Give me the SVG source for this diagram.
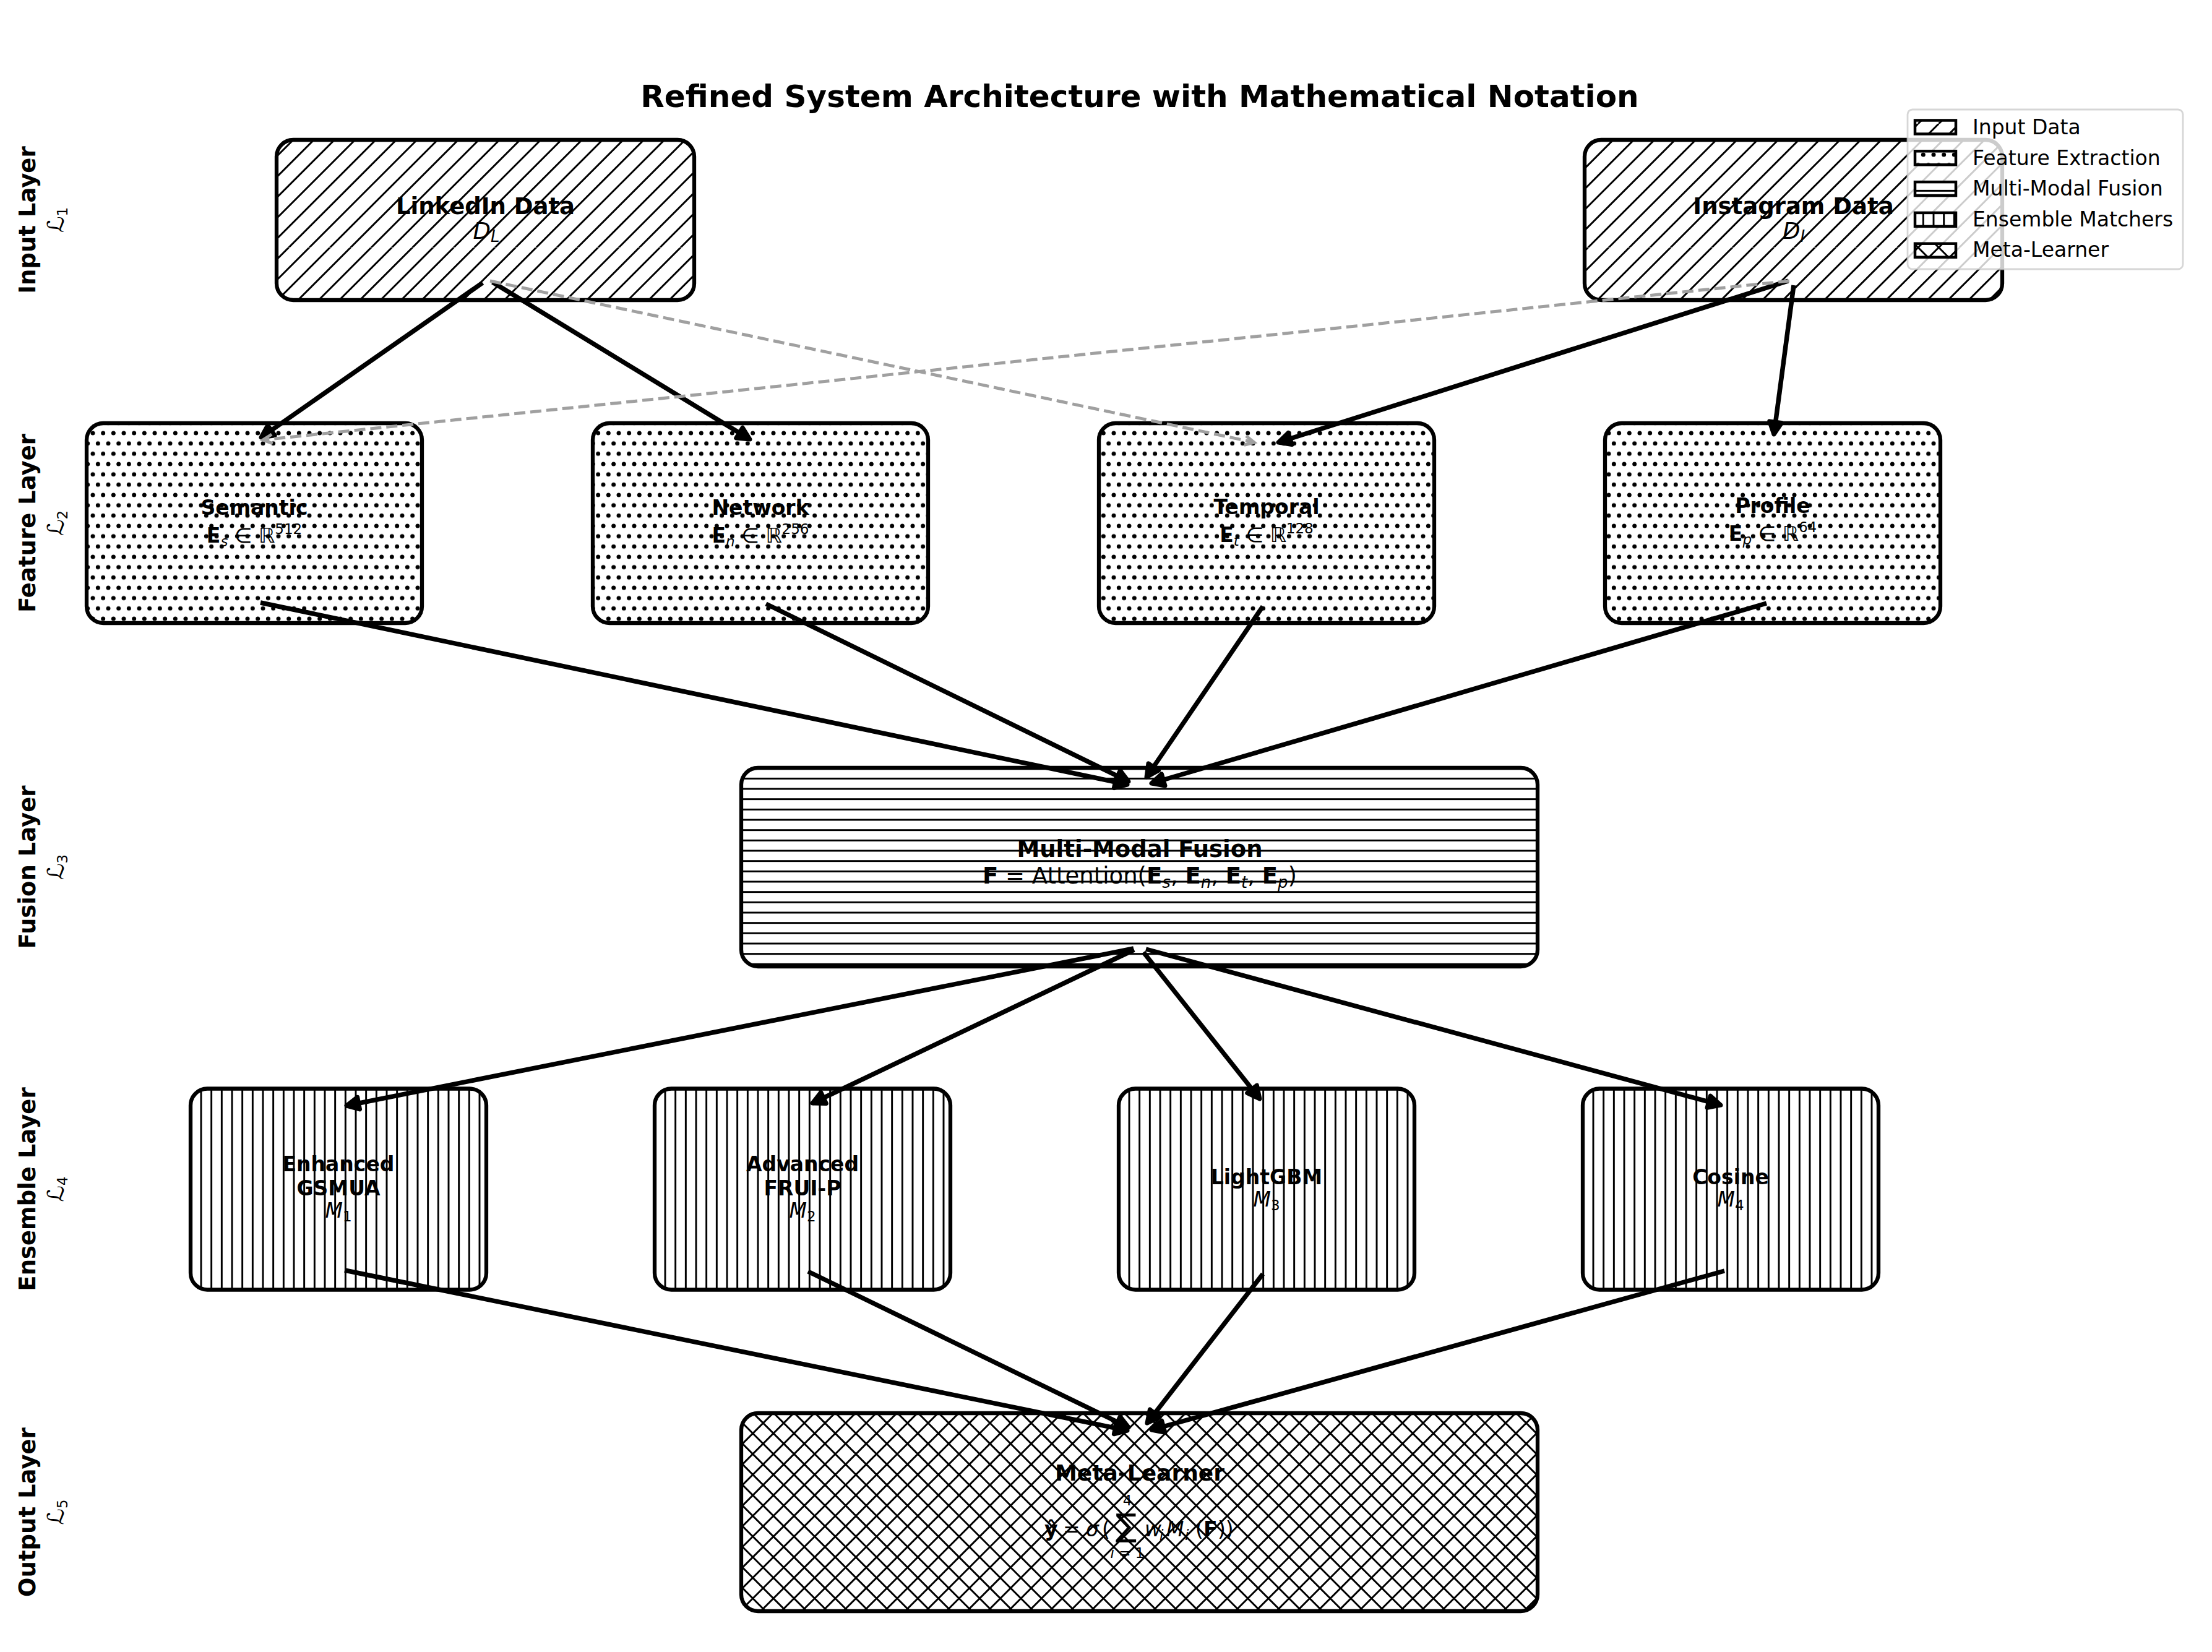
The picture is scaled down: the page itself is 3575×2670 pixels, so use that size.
<svg xmlns="http://www.w3.org/2000/svg" width="3575" height="2670" viewBox="0 0 3575 2670">
<style>
text{font-family:"DejaVu Sans","Liberation Sans","Noto Sans",sans-serif;fill:#000}
.title{font-size:50px;font-weight:bold;text-anchor:middle}
.lay{font-size:37px;font-weight:bold;text-anchor:middle}
.cal{font-size:37px;text-anchor:middle}
.bg{fill:#fff;stroke:none}
.box{stroke:#000;stroke-width:6.3}
.h37{font-size:37px;font-weight:bold;text-anchor:middle}
.h33{font-size:33px;font-weight:bold;text-anchor:middle}
.h36{font-size:36px;font-weight:bold;text-anchor:middle}
.m37{font-size:37px;text-anchor:middle}
.m33{font-size:33px;text-anchor:middle}
.f33{font-size:33px}
.it{font-style:italic}
.b{font-weight:bold}
.s26{font-size:26px;font-style:italic}
.s23{font-size:23px;font-style:italic}
.u23{font-size:23px}
.conn{stroke:#000;stroke-width:7.5;fill:none;marker-end:url(#ah)}
.dash{stroke:#a0a0a0;stroke-width:5;stroke-dasharray:18 8;fill:none;marker-end:url(#gh)}
.leg{font-size:33px}
.sw{stroke:#000;stroke-width:4.5}
</style>
<defs>
<pattern id="pDiag" patternUnits="userSpaceOnUse" x="0" y="0" width="200" height="200">
<path d="M0,0L-200,200M33.333,0L-166.667,200M66.667,0L-133.333,200M100,0L-100,200M133.333,0L-66.667,200M166.667,0L-33.333,200M200,0L0,200M233.333,0L33.333,200M266.667,0L66.667,200M300,0L100,200M333.333,0L133.333,200M366.667,0L166.667,200M400,0L200,200" stroke="#000" stroke-width="3" fill="none"/>
</pattern>
<pattern id="pCross" patternUnits="userSpaceOnUse" x="0" y="0" width="200" height="200">
<path d="M0,0L-200,200M33.333,0L-166.667,200M66.667,0L-133.333,200M100,0L-100,200M133.333,0L-66.667,200M166.667,0L-33.333,200M200,0L0,200M233.333,0L33.333,200M266.667,0L66.667,200M300,0L100,200M333.333,0L133.333,200M366.667,0L166.667,200M400,0L200,200M-200,0L0,200M-166.667,0L33.333,200M-133.333,0L66.667,200M-100,0L100,200M-66.667,0L133.333,200M-33.333,0L166.667,200M0,0L200,200M33.333,0L233.333,200M66.667,0L266.667,200M100,0L300,200M133.333,0L333.333,200M166.667,0L366.667,200M200,0L400,200" stroke="#000" stroke-width="3" fill="none"/>
</pattern>
<pattern id="pHor" patternUnits="userSpaceOnUse" x="0" y="0" width="100" height="16.6667">
<path d="M-1,8.333H101" stroke="#000" stroke-width="3"/>
</pattern>
<pattern id="pVer" patternUnits="userSpaceOnUse" x="0" y="0" width="16.6667" height="100">
<path d="M8.333,-1V101" stroke="#000" stroke-width="3"/>
</pattern>
<pattern id="pDot" patternUnits="userSpaceOnUse" x="0" y="0" width="100" height="33.3333">
<g fill="#000">
<circle cx="0" cy="0" r="3.5"/><circle cx="16.667" cy="0" r="3.5"/><circle cx="33.333" cy="0" r="3.5"/><circle cx="50" cy="0" r="3.5"/><circle cx="66.667" cy="0" r="3.5"/><circle cx="83.333" cy="0" r="3.5"/><circle cx="100" cy="0" r="3.5"/>
<circle cx="8.333" cy="16.667" r="3.5"/><circle cx="25" cy="16.667" r="3.5"/><circle cx="41.667" cy="16.667" r="3.5"/><circle cx="58.333" cy="16.667" r="3.5"/><circle cx="75" cy="16.667" r="3.5"/><circle cx="91.667" cy="16.667" r="3.5"/>
<circle cx="0" cy="33.333" r="3.5"/><circle cx="16.667" cy="33.333" r="3.5"/><circle cx="33.333" cy="33.333" r="3.5"/><circle cx="50" cy="33.333" r="3.5"/><circle cx="66.667" cy="33.333" r="3.5"/><circle cx="83.333" cy="33.333" r="3.5"/><circle cx="100" cy="33.333" r="3.5"/>
</g>
</pattern>
<marker id="ah" markerUnits="userSpaceOnUse" orient="auto" markerWidth="40" markerHeight="40" viewBox="-30 -20 40 40" refX="0" refY="0" overflow="visible">
<path d="M0,0L-20,-10L-20,10Z" fill="#000" stroke="#000" stroke-width="7" stroke-linejoin="round"/>
</marker>
<marker id="gh" markerUnits="userSpaceOnUse" orient="auto" markerWidth="40" markerHeight="40" viewBox="-30 -20 40 40" refX="0" refY="0" overflow="visible">
<path d="M-15,-7.5L0,0L-15,7.5" fill="none" stroke="#a0a0a0" stroke-width="5"/>
</marker>
</defs>
<rect x="0" y="0" width="3575" height="2670" fill="#fff"/>

<g id="title"><text class="title" x="1842" y="173">Refined System Architecture with Mathematical Notation</text></g>

<g id="layer-labels">
<text class="lay" transform="translate(57,355.5) rotate(-90)">Input Layer</text>
<text class="cal" transform="translate(103,355.5) rotate(-90)">ℒ<tspan class="u23" dy="6">1</tspan></text>
<text class="lay" transform="translate(57,845.5) rotate(-90)">Feature Layer</text>
<text class="cal" transform="translate(103,845.5) rotate(-90)">ℒ<tspan class="u23" dy="6">2</tspan></text>
<text class="lay" transform="translate(57,1401.5) rotate(-90)">Fusion Layer</text>
<text class="cal" transform="translate(103,1401.5) rotate(-90)">ℒ<tspan class="u23" dy="6">3</tspan></text>
<text class="lay" transform="translate(57,1922) rotate(-90)">Ensemble Layer</text>
<text class="cal" transform="translate(103,1922) rotate(-90)">ℒ<tspan class="u23" dy="6">4</tspan></text>
<text class="lay" transform="translate(57,2444) rotate(-90)">Output Layer</text>
<text class="cal" transform="translate(103,2444) rotate(-90)">ℒ<tspan class="u23" dy="6">5</tspan></text>
</g>

<g id="nodes">
<g id="n-linkedin">
<rect class="bg" x="447" y="226" width="675" height="259" rx="27"/>
<rect class="box" x="447" y="226" width="675" height="259" rx="27" fill="url(#pDiag)"/>
<text class="h37" x="784.5" y="346">LinkedIn Data</text>
<text class="m37" x="786" y="386"><tspan class="it">D</tspan><tspan class="s26" dy="5">L</tspan></text>
</g>
<g id="n-instagram">
<rect class="bg" x="2561" y="226" width="675" height="259" rx="27"/>
<rect class="box" x="2561" y="226" width="675" height="259" rx="27" fill="url(#pDiag)"/>
<text class="h37" x="2898.5" y="346">Instagram Data</text>
<text class="m37" x="2899" y="386"><tspan class="it">D</tspan><tspan class="s26" dy="5">I</tspan></text>
</g>
<g id="n-semantic">
<rect class="bg" x="140" y="684" width="542" height="323" rx="27"/>
<rect class="box" x="140" y="684" width="542" height="323" rx="27" fill="url(#pDot)"/>
<text class="h33" x="411" y="832">Semantic</text>
<text class="m33" x="411" y="877"><tspan class="b">E</tspan><tspan class="s23" dy="6">s</tspan><tspan dy="-6"> ∈ </tspan><tspan class="it">ℝ</tspan><tspan class="u23" dy="-14">512</tspan></text>
</g>
<g id="n-network">
<rect class="bg" x="958" y="684" width="542" height="323" rx="27"/>
<rect class="box" x="958" y="684" width="542" height="323" rx="27" fill="url(#pDot)"/>
<text class="h33" x="1229" y="832">Network</text>
<text class="m33" x="1229" y="877"><tspan class="b">E</tspan><tspan class="s23" dy="6">n</tspan><tspan dy="-6"> ∈ </tspan><tspan class="it">ℝ</tspan><tspan class="u23" dy="-14">256</tspan></text>
</g>
<g id="n-temporal">
<rect class="bg" x="1776" y="684" width="542" height="323" rx="27"/>
<rect class="box" x="1776" y="684" width="542" height="323" rx="27" fill="url(#pDot)"/>
<text class="h33" x="2047" y="831">Temporal</text>
<text class="m33" x="2047" y="876"><tspan class="b">E</tspan><tspan class="s23" dy="6">t</tspan><tspan dy="-6"> ∈ </tspan><tspan class="it">ℝ</tspan><tspan class="u23" dy="-14">128</tspan></text>
</g>
<g id="n-profile">
<rect class="bg" x="2594" y="684" width="542" height="323" rx="27"/>
<rect class="box" x="2594" y="684" width="542" height="323" rx="27" fill="url(#pDot)"/>
<text class="h33" x="2865" y="829">Profile</text>
<text class="m33" x="2865" y="874"><tspan class="b">E</tspan><tspan class="s23" dy="6">p</tspan><tspan dy="-6"> ∈ </tspan><tspan class="it">ℝ</tspan><tspan class="u23" dy="-14">64</tspan></text>
</g>
<g id="n-fusion">
<rect class="bg" x="1198" y="1241" width="1287" height="321" rx="27"/>
<rect class="box" x="1198" y="1241" width="1287" height="321" rx="27" fill="url(#pHor)"/>
<text class="h37" x="1842" y="1385">Multi-Modal Fusion</text>
<text class="m37" x="1842" y="1428"><tspan class="b">F</tspan> = Attention(<tspan class="b">E</tspan><tspan class="s26" dy="7">s</tspan><tspan dy="-7">, </tspan><tspan class="b">E</tspan><tspan class="s26" dy="7">n</tspan><tspan dy="-7">, </tspan><tspan class="b">E</tspan><tspan class="s26" dy="7">t</tspan><tspan dy="-7">, </tspan><tspan class="b">E</tspan><tspan class="s26" dy="7">p</tspan><tspan dy="-7">)</tspan></text>
</g>
<g id="n-gsmua">
<rect class="bg" x="308" y="1759.5" width="478" height="325" rx="27"/>
<rect class="box" x="308" y="1759.5" width="478" height="325" rx="27" fill="url(#pVer)"/>
<text class="h33" x="547" y="1893">Enhanced</text>
<text class="h33" x="547" y="1932">GSMUA</text>
<text class="m33" x="547" y="1968"><tspan class="it">M</tspan><tspan class="u23" dy="6">1</tspan></text>
</g>
<g id="n-fruip">
<rect class="bg" x="1058" y="1759.5" width="478" height="325" rx="27"/>
<rect class="box" x="1058" y="1759.5" width="478" height="325" rx="27" fill="url(#pVer)"/>
<text class="h33" x="1297" y="1893">Advanced</text>
<text class="h33" x="1297" y="1932">FRUI-P</text>
<text class="m33" x="1297" y="1968"><tspan class="it">M</tspan><tspan class="u23" dy="6">2</tspan></text>
</g>
<g id="n-lightgbm">
<rect class="bg" x="1808" y="1759.5" width="478" height="325" rx="27"/>
<rect class="box" x="1808" y="1759.5" width="478" height="325" rx="27" fill="url(#pVer)"/>
<text class="h33" x="2047" y="1914">LightGBM</text>
<text class="m33" x="2047" y="1950"><tspan class="it">M</tspan><tspan class="u23" dy="6">3</tspan></text>
</g>
<g id="n-cosine">
<rect class="bg" x="2558" y="1759.5" width="478" height="325" rx="27"/>
<rect class="box" x="2558" y="1759.5" width="478" height="325" rx="27" fill="url(#pVer)"/>
<text class="h33" x="2797" y="1914">Cosine</text>
<text class="m33" x="2797" y="1950"><tspan class="it">M</tspan><tspan class="u23" dy="6">4</tspan></text>
</g>
<g id="n-meta">
<rect class="bg" x="1198" y="2284" width="1287" height="320" rx="27"/>
<rect class="box" x="1198" y="2284" width="1287" height="320" rx="27" fill="url(#pCross)"/>
<text class="h36" x="1842" y="2393">Meta-Learner</text>
<text class="f33" y="2483"><tspan x="1688" class="b">ŷ</tspan><tspan x="1718">=</tspan><tspan x="1755" class="it">σ</tspan><tspan x="1781">(</tspan><tspan x="1803" style="font-size:51px">∑</tspan><tspan x="1850" class="it">w</tspan><tspan x="1874" class="s23" dy="6">i</tspan><tspan x="1885" class="it" dy="-6">M</tspan><tspan x="1915" class="s23" dy="6">i</tspan><tspan x="1932" dy="-6">(</tspan><tspan x="1945" class="b">F</tspan><tspan x="1968">))</tspan></text>
<text class="u23" x="1822" y="2433" text-anchor="middle">4</text>
<text class="u23" x="1822" y="2518" text-anchor="middle"><tspan class="it">i</tspan> = 1</text>
</g>
</g>

<g id="connectors">
<line class="conn" x1="780" y1="457" x2="422" y2="707"/>
<line class="conn" x1="796" y1="456" x2="1212" y2="710"/>
<line class="conn" x1="2890" y1="454" x2="2066" y2="715"/>
<line class="conn" x1="2899" y1="461" x2="2867" y2="702"/>
<line class="dash" x1="792" y1="454" x2="2027" y2="715"/>
<line class="dash" x1="2892" y1="454" x2="425" y2="711"/>
<line class="conn" x1="421" y1="974" x2="1822" y2="1268"/>
<line class="conn" x1="1238" y1="976" x2="1824" y2="1263"/>
<line class="conn" x1="2041" y1="980" x2="1853" y2="1256"/>
<line class="conn" x1="2855" y1="975" x2="1861" y2="1266"/>
<line class="conn" x1="1832" y1="1533" x2="560" y2="1787"/>
<line class="conn" x1="1833" y1="1535" x2="1313" y2="1783"/>
<line class="conn" x1="1848" y1="1539" x2="2036" y2="1776"/>
<line class="conn" x1="1852" y1="1534" x2="2781" y2="1786"/>
<line class="conn" x1="557" y1="2053" x2="1822" y2="2312"/>
<line class="conn" x1="1306" y1="2055" x2="1824" y2="2307"/>
<line class="conn" x1="2041" y1="2059" x2="1854" y2="2300"/>
<line class="conn" x1="2787" y1="2054" x2="1861" y2="2311"/>
</g>

<g id="legend">
<rect x="3083" y="177" width="445" height="258" rx="8" fill="#fff" fill-opacity="0.8" stroke="#cccccc" stroke-opacity="0.8" stroke-width="2.8"/>
<rect class="bg" x="3095" y="194.5" width="66" height="22"/>
<rect class="sw" x="3095" y="194.5" width="66" height="22" fill="url(#pDiag)"/>
<text class="leg" x="3188" y="217">Input Data</text>
<rect class="bg" x="3095" y="244.3" width="66" height="22"/>
<rect class="sw" x="3095" y="244.3" width="66" height="22" fill="url(#pDot)"/>
<text class="leg" x="3188" y="266.5">Feature Extraction</text>
<rect class="bg" x="3095" y="294.1" width="66" height="22"/>
<rect class="sw" x="3095" y="294.1" width="66" height="22" fill="url(#pHor)"/>
<text class="leg" x="3188" y="316">Multi-Modal Fusion</text>
<rect class="bg" x="3095" y="343.9" width="66" height="22"/>
<rect class="sw" x="3095" y="343.9" width="66" height="22" fill="url(#pVer)"/>
<text class="leg" x="3188" y="365.5">Ensemble Matchers</text>
<rect class="bg" x="3095" y="393.7" width="66" height="22"/>
<rect class="sw" x="3095" y="393.7" width="66" height="22" fill="url(#pCross)"/>
<text class="leg" x="3188" y="415">Meta-Learner</text>
</g>
</svg>
